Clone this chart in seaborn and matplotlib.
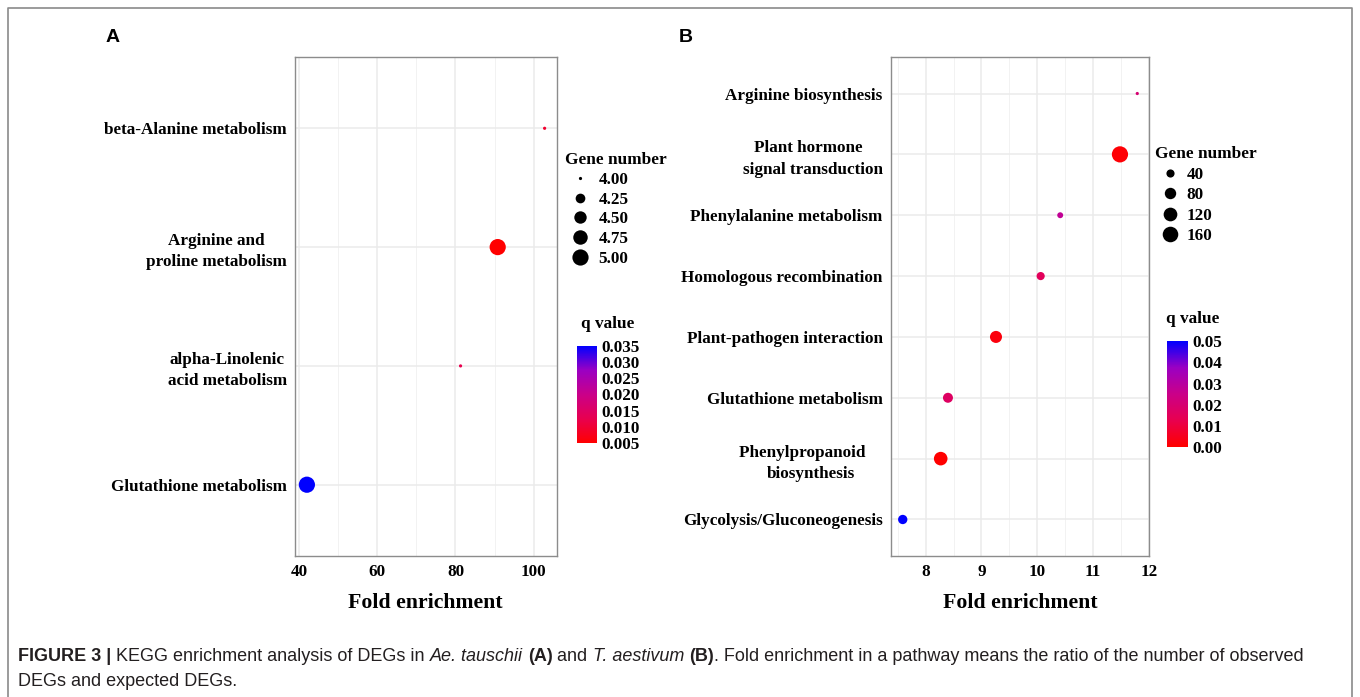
import numpy as np
import pandas as pd
import matplotlib
matplotlib.use("Agg")
import matplotlib.pyplot as plt
import seaborn as sns
from matplotlib.colors import LinearSegmentedColormap, Normalize
from matplotlib.cm import ScalarMappable
from matplotlib.lines import Line2D
from matplotlib import font_manager

# パネルA: Ae. tauschii
pathways_a = ["beta-Alanine metabolism", "Arginine and\nproline metabolism",
              "alpha-Linolenic\nacid metabolism", "Glutathione metabolism"]
fold_a = [102.8, 90.8, 81.3, 42.0]
genes_a = [4, 5, 4, 5]
qvalue_a = [0.0094, 0.0048, 0.0124, 0.0352]
size_ticks_a = [4.00, 4.25, 4.50, 4.75, 5.00]
q_ticks_a = [0.005, 0.010, 0.015, 0.020, 0.025, 0.030, 0.035]
x_ticks_a = [40, 60, 80, 100]

# パネルB: T. aestivum
pathways_b = ["Arginine biosynthesis", "Plant hormone  \nsignal transduction",
              "Phenylalanine metabolism", "Homologous recombination",
              "Plant-pathogen interaction", "Glutathione metabolism",
              "Phenylpropanoid    \nbiosynthesis", "Glycolysis/Gluconeogenesis"]
fold_b = [11.79, 11.48, 10.41, 10.06, 9.26, 8.40, 8.27, 7.59]
genes_b = [17, 175, 24, 40, 90, 60, 118, 52]
qvalue_b = [0.020, 0.0008, 0.0275, 0.015, 0.002, 0.0165, 0.0, 0.0502]
size_ticks_b = [40, 80, 120, 160]
q_ticks_b = [0.00, 0.01, 0.02, 0.03, 0.04, 0.05]
x_ticks_b = [8, 9, 10, 11, 12]

sns.set_style("white")
serif = "Liberation Serif"
names = {f.name for f in font_manager.fontManager.ttflist}
cap_font = "Liberation Sans Narrow" if "Liberation Sans Narrow" in names else "Liberation Sans"
plt.rcParams["font.family"] = [serif, "DejaVu Serif"]
plt.rcParams["text.color"] = "black"
plt.rcParams["axes.labelcolor"] = "black"

DPI = 100
W, H = 1360, 697
fig = plt.figure(figsize=(W / DPI, H / DPI), dpi=DPI)

# 赤→青 (ggplot の Lab 補間に近い色)
cmap = LinearSegmentedColormap.from_list(
    "rb", ["#FF0000", "#E8004F", "#CA0089", "#9A00C3", "#0000FF"])

LABEL_SIZE = 12.3


def dot_area(v, lo, hi):
    # ggplot scale_size (range 1..6) に近い直径
    t = (np.asarray(v, dtype=float) - lo) / (hi - lo)
    d_px = 0.6 + 2.6 * (1 + 5 * np.sqrt(np.clip(t, 0, 1)))
    return (d_px * 72 / DPI) ** 2


def fig_box(x0, y0, x1, y1):
    return [x0 / W, 1 - y1 / H, (x1 - x0) / W, (y1 - y0) / H]


def draw_panel(ax_box, cax_box, pathways, fold, genes, qvals, xticks, minor,
               size_ticks, q_ticks, q_fmt, leg_xy, leg_opts, qtitle_xy,
               letter, letter_xy):
    ax = fig.add_axes(fig_box(*ax_box))
    df = pd.DataFrame({"pathway": pathways, "fold": fold,
                       "genes": genes, "q": qvals})
    g_lo, g_hi = min(genes), max(genes)
    norm = Normalize(min(qvals), max(qvals))
    size_map = {g: float(dot_area(g, g_lo, g_hi)) for g in sorted(set(genes))}

    sns.scatterplot(data=df, x="fold", y="pathway", hue="q", size="genes",
                    palette=cmap, hue_norm=norm, sizes=size_map,
                    linewidth=0, legend=False, ax=ax, zorder=3)

    n = len(pathways)
    ax.set_xticks(xticks)
    ax.set_xticks(np.arange(xticks[0] - minor, xticks[-1] + minor * 1.01, minor),
                  minor=True)
    ax.set_yticks(range(n))
    ax.set_yticklabels(pathways)
    span = max(fold) - min(fold)
    ax.set_xlim(min(fold) - 0.05 * span, max(fold) + 0.05 * span)
    ax.set_ylim(n - 1 + 0.6, -0.6)
    for lbl in ax.get_yticklabels():
        lbl.set_multialignment("center")
        lbl.set_linespacing(1.45)
    ax.grid(which="major", color="#EBEBEB", linewidth=1.1, zorder=0)
    ax.grid(which="minor", axis="x", color="#F2F2F2", linewidth=0.7, zorder=0)
    ax.set_axisbelow(True)
    for s in ax.spines.values():
        s.set_color("#8C8C8C")
        s.set_linewidth(1.0)
    ax.tick_params(which="major", length=4, width=0.9, color="#555555",
                   labelsize=LABEL_SIZE, labelcolor="black", pad=2)
    ax.tick_params(which="minor", length=0)
    for lbl in ax.get_xticklabels() + ax.get_yticklabels():
        lbl.set_fontweight("bold")
    ax.set_xlabel("Fold enrichment", fontsize=15.7, fontweight="bold",
                  labelpad=9, color="black")
    ax.set_ylabel("")

    # Gene number 凡例
    handles = [Line2D([], [], marker="o", linestyle="", color="black",
                      markeredgewidth=0,
                      markersize=float(np.sqrt(dot_area(v, g_lo, g_hi))))
               for v in size_ticks]
    labels = [f"{v:.2f}" if isinstance(v, float) else str(v) for v in size_ticks]
    leg = ax.legend(handles, labels, title="Gene number", loc="upper left",
                    bbox_to_anchor=(leg_xy[0] / W, 1 - leg_xy[1] / H),
                    bbox_transform=fig.transFigure, frameon=False,
                    borderpad=0, borderaxespad=0, labelcolor="black",
                    prop={"family": serif, "weight": "bold", "size": LABEL_SIZE},
                    title_fontproperties={"family": serif, "weight": "bold",
                                          "size": 12.4},
                    **leg_opts)
    leg.get_title().set_color("black")
    leg._legend_box.align = "left"

    # q value カラーバー
    cax = fig.add_axes(fig_box(*cax_box))
    cb = fig.colorbar(ScalarMappable(norm=norm, cmap=cmap), cax=cax,
                      ticks=q_ticks, format=q_fmt)
    cb.outline.set_visible(False)
    cax.tick_params(length=4, width=0.8, color="white", direction="in",
                    labelsize=LABEL_SIZE, labelcolor="black", pad=3)
    for lbl in cax.get_yticklabels():
        lbl.set_fontweight("bold")
    fig.text(qtitle_xy[0] / W, 1 - qtitle_xy[1] / H, "q value", fontsize=12.4,
             fontweight="bold", color="black", ha="left", va="center")

    fig.text(letter_xy[0] / W, 1 - letter_xy[1] / H, letter, fontsize=14,
             fontweight="bold", family="Liberation Sans", color="black",
             ha="center", va="center")
    return ax


draw_panel((295, 57, 556.5, 556), (577, 345.7, 597, 443.3),
           pathways_a, fold_a, genes_a, qvalue_a, x_ticks_a, 10,
           size_ticks_a, q_ticks_a, "%.3f", (565, 152),
           dict(handlelength=1.75, handletextpad=0.2, labelspacing=0.22),
           (581, 324), "A", (113, 37))
draw_panel((891, 57, 1149, 556), (1167, 341, 1188, 446.7),
           pathways_b, fold_b, genes_b, qvalue_b, x_ticks_b, 0.5,
           size_ticks_b, q_ticks_b, "%.2f", (1155, 146),
           dict(handlelength=1.75, handletextpad=0.1, labelspacing=0.27),
           (1166, 319), "B", (686, 37))

# 外枠 (下側は開いている)
fig.add_artist(Line2D([8 / W, 8 / W, 1352 / W, 1352 / W],
                      [0, 1 - 8 / H, 1 - 8 / H, 0],
                      transform=fig.transFigure, color="#8A8A8A", linewidth=1.2))

# キャプション
renderer = fig.canvas.get_renderer()
cap_color = "#231F20"
cap_size = 13
line1 = [("FIGURE 3 |", "bold", "normal"),
         (" KEGG enrichment analysis of DEGs in ", "normal", "normal"),
         ("Ae. tauschii", "normal", "italic"), (" ", "normal", "normal"),
         ("(A)", "bold", "normal"), (" and ", "normal", "normal"),
         ("T. aestivum", "normal", "italic"), (" ", "normal", "normal"),
         ("(B)", "bold", "normal"),
         (". Fold enrichment in a pathway means the ratio of the number of observed",
          "normal", "normal")]
x = 18
for txt, wt, st in line1:
    t = fig.text(x / W, 1 - 661 / H, txt, fontsize=cap_size, fontweight=wt,
                 fontstyle=st, family=cap_font, color=cap_color,
                 ha="left", va="baseline")
    x += t.get_window_extent(renderer).width
fig.text(18 / W, 1 - 686 / H, "DEGs and expected DEGs.", fontsize=cap_size,
         family=cap_font, color=cap_color, ha="left", va="baseline")

fig.savefig("out.png", dpi=DPI)
